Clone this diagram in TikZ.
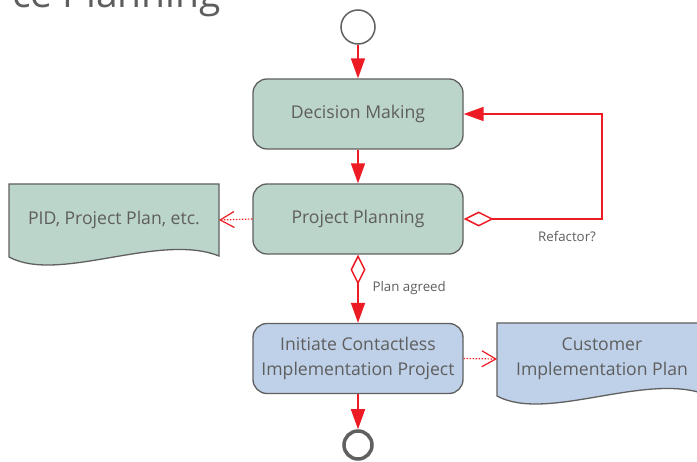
\documentclass[tikz,border=0pt]{standalone}
\usepackage{fontspec}
\setmainfont{Open Sans}
\usetikzlibrary{arrows.meta,backgrounds,calc}

\definecolor{flowred}{HTML}{ED1C24}
\definecolor{inkgray}{HTML}{5E5E5E}
\definecolor{linegray}{HTML}{606060}
\definecolor{sage}{HTML}{BCD5CA}
\definecolor{paleblue}{HTML}{BFD1E8}

\begin{document}
\begin{tikzpicture}[x=1pt, y=-1pt,
  font=\fontsize{17.6}{25}\selectfont, text=inkgray,
  activity/.style={draw=linegray, line width=1.3pt, rounded corners=14pt,
    minimum width=210pt, minimum height=70pt, align=center, inner sep=0pt},
  greenbox/.style={activity, fill=sage},
  bluebox/.style={activity, fill=paleblue},
  docnode/.style={minimum width=210pt, minimum height=72pt, align=center,
    inner sep=0pt, outer sep=0pt},
  docshape/.style={draw=linegray, line width=1.3pt},
  flow/.style={draw=flowred, line width=1.5pt,
    -{Triangle[length=20pt, width=14pt]}},
  decision/.style={draw=flowred, line width=1.5pt,
    {Diamond[open, length=30pt, width=15pt]}-{Triangle[length=20pt, width=14pt]}},
  artefact/.style={draw=flowred, line width=1.2pt, dash pattern=on 1.5pt off 1.5pt,
    -{Straight Barb[length=14pt, width=16pt]}},
  guard/.style={font=\fontsize{13.3}{15}\selectfont},
  startnode/.style={draw=linegray, line width=1.5pt, circle, minimum size=34pt,
    inner sep=0pt, fill=white},
  endnode/.style={draw=linegray, line width=3.5pt, circle, minimum size=28pt,
    inner sep=0pt}
]
\useasboundingbox (0,0) rectangle (697,462);
\clip (0,0) rectangle (697,462);

% heading
\node[font=\fontsize{39}{42}\selectfont, anchor=base west, inner sep=0pt] (title) at (12,8) {ce Planning};

% activities
\node[startnode] (start) at (358,27) {};
\node[greenbox] (dm) at (358,114) {Decision Making};
\node[greenbox] (pp) at (358,219) {Project Planning};
\node[bluebox] (ini) at (358,358.5) {Initiate Contactless\\Implementation Project};
\node[endnode] (end) at (358,445) {};

% documents
\node[docnode] (pid) at (114,220) {PID, Project Plan, etc.};
\node[docnode] (cust) at (602,359) {Customer\\Implementation Plan};

\begin{scope}[on background layer]
  \fill[white] (0,0) rectangle (697,462);
  \foreach \doc/\col in {pid/sage, cust/paleblue} {
    \draw[docshape, fill=\col] (\doc.north west) -- (\doc.north east) -- (\doc.south east)
      .. controls ($(\doc.north west)+(150,48)$) and ($(\doc.north west)+(50,100)$)
      .. ($(\doc.north west)+(0,73)$) -- cycle;
  }
\end{scope}

% flow
\coordinate (rx) at (602,0);
\draw[flow] (start.south) -- (dm.north);
\draw[flow] (dm.south) -- (pp.north);
\draw[decision] (pp.south) -- (ini.north);
\draw[flow] (ini.south) -- (end.north);
\draw[decision] (pp.east) -- (pp.east -| rx) |- (dm.east);

% artefacts
\draw[artefact] (pp.west) -- (pid.east);
\draw[artefact] (ini.east) -- (cust.west);

% guards
\node[guard, anchor=west] (agreed) at (369,288) {Plan agreed};
\node[guard] (refactor) at (567,237) {Refactor?};
\end{tikzpicture}
\end{document}
